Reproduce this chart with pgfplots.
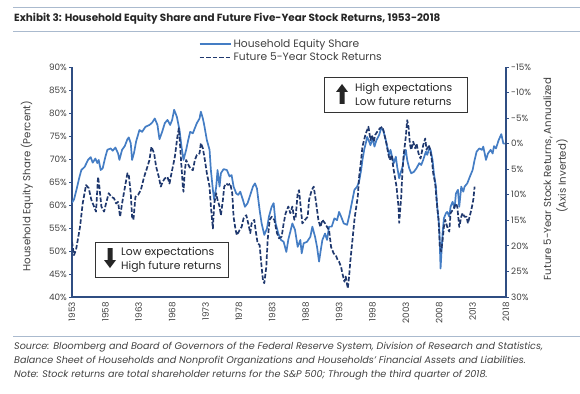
\documentclass[border=0pt]{standalone}
\usepackage{fontspec}
\setmainfont{Poppins}
\usepackage{pgfplots}
\pgfplotsset{compat=1.18}
\usetikzlibrary{arrows.meta}
\definecolor{solidcol}{RGB}{68,125,196}
\definecolor{dashcol}{RGB}{31,56,110}
\definecolor{axiscol}{RGB}{47,77,130}
\definecolor{rulecol}{RGB}{170,186,206}
\definecolor{txtcol}{RGB}{64,64,64}

\pgfplotstableread{
yr val
1953.0 60.5
1953.3 61.2
1953.7 63.5
1954.1 66.0
1954.4 67.6
1954.9 68.3
1955.4 69.8
1955.8 70.4
1956.1 69.2
1956.5 70.1
1956.8 69.1
1957.0 69.8
1957.3 67.6
1957.6 68.0
1958.0 70.5
1958.3 72.0
1958.8 72.3
1959.1 71.8
1959.5 72.5
1959.9 71.2
1960.1 69.8
1960.5 72.0
1960.9 72.8
1961.3 74.3
1961.5 74.7
1961.8 73.4
1962.0 69.8
1962.3 71.4
1962.6 73.8
1963.1 76.3
1963.5 75.9
1964.0 77.0
1964.6 77.4
1965.0 77.9
1965.4 78.8
1965.8 77.4
1966.1 74.3
1966.5 75.9
1966.9 77.8
1967.3 78.5
1967.7 77.4
1968.0 78.5
1968.3 80.7
1968.7 79.2
1969.1 76.3
1969.4 72.7
1969.7 69.8
1970.1 72.0
1970.4 74.1
1970.7 75.9
1971.1 75.6
1971.4 76.7
1971.7 77.8
1972.1 78.8
1972.3 80.3
1972.6 78.8
1972.8 77.4
1973.2 74.1
1973.6 72.0
1973.8 67.6
1974.1 63.3
1974.3 61.1
1974.6 64.0
1974.8 67.6
1975.1 64.0
1975.3 66.9
1975.7 67.8
1976.2 67.6
1976.6 66.2
1976.9 66.5
1977.2 64.0
1977.6 62.5
1977.9 62.2
1978.2 62.9
1978.6 61.1
1978.9 59.6
1979.3 60.4
1979.7 62.2
1980.1 64.0
1980.4 64.7
1980.7 63.6
1981.1 58.9
1981.4 56.0
1981.8 53.5
1982.2 54.9
1982.5 57.5
1982.9 59.6
1983.2 60.4
1983.5 56.0
1983.9 53.8
1984.3 52.4
1984.7 52.0
1985.1 49.8
1985.4 52.5
1985.7 54.2
1986.0 56.0
1986.4 54.6
1986.8 50.9
1987.2 52.4
1987.4 49.5
1987.7 51.7
1988.2 52.0
1988.7 53.1
1989.0 55.3
1989.4 53.1
1989.7 50.9
1990.0 47.7
1990.3 50.6
1990.5 52.4
1990.9 53.8
1991.2 52.4
1991.5 55.3
1991.9 55.3
1992.3 57.1
1992.7 56.7
1993.0 58.5
1993.3 57.5
1993.7 56.0
1994.2 55.7
1994.5 57.5
1994.9 60.4
1995.3 63.3
1995.7 64.0
1996.0 65.1
1996.3 67.6
1996.5 69.8
1996.8 72.3
1997.0 73.4
1997.2 74.8
1997.5 73.8
1997.7 73.0
1998.0 74.5
1998.3 72.7
1998.6 74.1
1999.0 75.2
1999.3 76.7
1999.6 76.3
2000.0 74.1
2000.2 72.7
2000.5 70.9
2000.7 72.0
2001.0 70.1
2001.2 69.1
2001.5 70.5
2001.7 68.3
2002.0 65.8
2002.2 66.9
2002.5 68.3
2002.7 70.5
2003.0 72.0
2003.2 69.8
2003.5 68.0
2003.8 66.9
2004.2 67.2
2004.6 68.0
2005.0 69.1
2005.3 68.7
2005.6 69.8
2006.0 71.6
2006.2 70.9
2006.5 72.3
2006.7 72.0
2007.0 69.8
2007.2 66.9
2007.5 64.0
2007.7 59.6
2008.0 55.3
2008.2 46.2
2008.5 53.8
2008.7 57.1
2009.0 58.2
2009.2 58.5
2009.5 57.5
2009.7 59.6
2010.0 60.7
2010.3 59.3
2010.5 62.5
2010.8 63.3
2011.0 59.6
2011.3 64.0
2011.6 62.9
2011.8 64.0
2012.2 64.7
2012.6 66.2
2013.0 67.6
2013.3 69.8
2013.6 71.6
2014.0 72.3
2014.4 72.0
2014.6 72.7
2015.0 69.8
2015.3 71.2
2015.7 72.0
2016.0 71.2
2016.2 72.8
2016.5 72.3
2016.9 74.1
2017.3 75.4
2017.6 73.4
2017.8 73.3
}\equity

\pgfplotstableread{
yr val
1953.0 19.2
1953.3 21.8
1953.6 20.8
1954.2 16.3
1954.6 11.7
1955.1 8.1
1955.5 8.7
1955.9 11.0
1956.3 12.3
1956.6 13.3
1956.9 6.5
1957.1 8.4
1957.4 12.3
1957.8 13.3
1958.1 11.7
1958.5 9.7
1958.9 10.4
1959.3 10.7
1959.6 11.7
1959.9 11.4
1960.2 14.3
1960.5 11.7
1960.9 8.7
1961.3 5.8
1961.5 6.1
1961.8 9.7
1962.0 14.3
1962.2 14.9
1962.5 10.4
1962.9 10.0
1963.3 9.1
1963.8 6.5
1964.3 4.5
1964.6 3.2
1964.9 0.6
1965.3 1.9
1965.6 4.5
1966.0 6.5
1966.3 8.4
1966.6 7.4
1966.9 6.8
1967.3 6.5
1967.6 7.8
1967.9 5.8
1968.4 2.6
1968.8 -1.5
1969.0 -3.0
1969.1 -1.4
1969.3 2.6
1969.6 8.4
1969.7 9.4
1969.9 5.2
1970.1 3.2
1970.3 3.8
1970.7 4.8
1971.1 5.2
1971.4 3.2
1971.7 2.2
1972.1 1.9
1972.3 -0.1
1972.6 0.9
1972.9 3.2
1973.2 5.8
1973.6 8.4
1973.8 12.3
1974.1 16.6
1974.3 11.7
1974.6 9.7
1974.8 11.0
1975.1 12.3
1975.3 14.0
1975.6 11.0
1975.8 8.4
1976.1 7.8
1976.4 8.1
1976.7 7.8
1977.0 9.7
1977.2 14.3
1977.5 16.9
1977.7 17.9
1978.1 16.9
1978.4 16.3
1978.7 14.6
1979.1 14.0
1979.4 15.6
1979.7 17.5
1979.9 15.6
1980.3 14.9
1980.5 16.9
1980.8 19.5
1981.1 19.8
1981.3 22.8
1981.6 26.7
1981.8 27.3
1982.1 24.1
1982.3 18.9
1982.6 14.9
1982.9 14.3
1983.3 14.9
1983.7 17.5
1984.0 18.5
1984.4 18.2
1984.7 15.6
1985.0 13.6
1985.4 12.3
1985.7 13.6
1986.0 12.3
1986.3 14.9
1986.5 14.3
1986.8 9.7
1987.0 9.1
1987.3 13.0
1987.5 15.6
1987.9 14.9
1988.3 14.3
1988.5 11.0
1988.9 9.1
1989.2 8.4
1989.5 11.0
1989.9 14.9
1990.2 16.3
1990.5 14.9
1990.9 15.6
1991.2 16.3
1991.5 16.9
1991.8 20.2
1992.2 21.5
1992.5 21.8
1992.8 22.8
1993.0 23.1
1993.3 24.1
1993.5 25.4
1993.8 27.0
1994.0 26.0
1994.3 28.3
1994.5 26.0
1994.7 22.8
1995.0 18.9
1995.3 14.9
1995.5 13.0
1995.8 10.4
1996.0 6.5
1996.3 3.2
1996.5 0.6
1996.8 -1.0
1997.0 -2.0
1997.4 -3.3
1997.7 -0.7
1997.9 -1.7
1998.2 -0.4
1998.4 -1.7
1998.7 -2.3
1999.1 -3.0
1999.5 -3.3
1999.7 -2.3
2000.1 0.0
2000.4 2.2
2000.6 3.2
2000.9 2.2
2001.1 4.5
2001.4 6.8
2001.6 8.4
2001.9 12.3
2002.0 15.5
2002.3 10.5
2002.5 5.2
2002.7 1.9
2003.0 -1.4
2003.2 -4.6
2003.4 -3.3
2003.6 0.0
2003.8 1.2
2004.1 -0.4
2004.4 0.9
2004.6 0.0
2004.9 1.9
2005.2 2.9
2005.6 0.3
2005.9 -1.0
2006.1 1.2
2006.4 0.3
2006.6 0.9
2006.9 3.2
2007.1 5.8
2007.4 7.8
2007.6 11.0
2007.9 14.9
2008.1 20.2
2008.3 21.1
2008.5 18.9
2008.7 16.3
2008.9 14.9
2009.2 16.3
2009.5 17.2
2009.7 13.6
2010.0 13.0
2010.2 12.6
2010.5 11.7
2010.7 12.3
2011.0 16.3
2011.3 14.3
2011.5 13.6
2011.8 14.3
2012.1 14.3
2012.3 15.6
2012.6 14.0
2012.8 13.0
2013.1 11.0
2013.3 8.4
}\returns

\begin{document}
\begin{tikzpicture}[x=1pt,y=1pt]
\path[use as bounding box] (0,0) rectangle (580,-393);
% rules
\draw[rulecol, line width=0.8pt] (13,-7) -- (580,-7);
\draw[rulecol, line width=0.8pt] (13,-31) -- (580,-31);
\draw[rulecol, line width=0.8pt] (13,-336) -- (580,-336);
% title
\node[anchor=west, inner sep=0pt, text=black!85, font=\bfseries\fontsize{10.4}{12}\selectfont] at (14,-19) {Exhibit 3: Household Equity Share and Future Five-Year Stock Returns, 1953-2018};
% source
\node[anchor=north west, inner sep=0pt, align=left, text=txtcol, font=\itshape\fontsize{9.6}{14}\selectfont] at (14,-342) {Source: Bloomberg and Board of Governors of the Federal Reserve System, Division of Research and Statistics,\\Balance Sheet of Households and Nonprofit Organizations and Households' Financial Assets and Liabilities.\\Note: Stock returns are total shareholder returns for the S\&P 500; Through the third quarter of 2018.};

\begin{axis}[
  scale only axis, width=434pt, height=230pt,
  at={(72pt,-297pt)}, anchor=south west,
  xmin=1953, xmax=2018, ymin=40, ymax=90,
  axis x line*=bottom, axis y line*=left,
  axis line style={draw=axiscol, line width=1.1pt},
  xtick={1953,1958,...,2018},
  ytick={40,45,...,90},
  xtick style={draw=none},
  ytick style={draw=axiscol, line width=0.8pt},
  tick align=outside, major tick length=3pt,
  /pgf/number format/1000 sep={},
  /pgf/number format/assume math mode=true,
  yticklabel={\pgfmathprintnumber{\tick}\%},
  x tick label style={rotate=90, anchor=east, font=\fontsize{8.8}{9}\selectfont, text=txtcol, inner sep=2pt},
  y tick label style={font=\fontsize{8.8}{9}\selectfont, text=txtcol, inner sep=2pt},
  legend cell align=left,
  legend style={draw=none, fill=none, at={(0.285,1.14)}, anchor=north west,
    font=\fontsize{10.7}{11}\selectfont, text=txtcol, row sep=0pt,
    /tikz/every even column/.append style={column sep=2pt}},
  legend image code/.code={\draw[#1] (0pt,0pt) -- (31pt,0pt);},
]
\addplot[solidcol, line width=1.7pt, line join=round] table[x=yr, y=val] {\equity};
\addlegendentry{Household Equity Share}
\addlegendimage{dashcol, line width=1.7pt, dash pattern=on 4.5pt off 2pt}
\addlegendentry{Future 5-Year Stock Returns}
\end{axis}

\begin{axis}[
  scale only axis, width=434pt, height=230pt,
  at={(72pt,-297pt)}, anchor=south west,
  xmin=1953, xmax=2018, ymin=-15, ymax=30, y dir=reverse,
  axis x line=none, axis y line*=right,
  axis line style={draw=axiscol, line width=1.1pt},
  ytick={-15,-10,...,30},
  ytick style={draw=axiscol, line width=0.8pt},
  tick align=outside, major tick length=3pt,
  /pgf/number format/assume math mode=true,
  yticklabel={\pgfmathprintnumber{\tick}\%},
  y tick label style={font=\fontsize{8.8}{9}\selectfont, text=txtcol, inner sep=2pt},
]
\addplot[dashcol, line width=1.7pt, dash pattern=on 4.5pt off 2pt, line join=round] table[x=yr, y=val] {\returns};
\end{axis}

% axis titles
\node[rotate=90, text=txtcol, font=\fontsize{10.2}{11}\selectfont] at (27,-186) {Household Equity Share (Percent)};
\node[rotate=90, text=txtcol, font=\fontsize{10.2}{11}\selectfont] at (548,-179) {Future 5-Year Stock Returns, Annualized};
\node[rotate=90, text=txtcol, font=\fontsize{10.2}{11}\selectfont] at (562,-176) {(Axis Inverted)};

% annotation boxes
\draw[black!80, line width=0.8pt, fill=white] (324,-77) rectangle (467,-112);
\fill[black!85] (339.5,-104) -- (339.5,-92) -- (336,-92) -- (342,-84) -- (348,-92) -- (344.5,-92) -- (344.5,-104) -- cycle;
\node[anchor=west, align=left, inner sep=0pt, text=black!85, font=\fontsize{10.8}{13.5}\selectfont] at (355,-94.5) {High expectations\\Low future returns};

\draw[black!80, line width=0.8pt, fill=white] (95,-242) rectangle (228,-277);
\fill[black!85] (107.5,-248) -- (107.5,-260) -- (104,-260) -- (110,-268) -- (116,-260) -- (112.5,-260) -- (112.5,-248) -- cycle;
\node[anchor=west, align=left, inner sep=0pt, text=black!85, font=\fontsize{10.8}{13.5}\selectfont] at (121,-260) {Low expectations\\High future returns};
\end{tikzpicture}
\end{document}
